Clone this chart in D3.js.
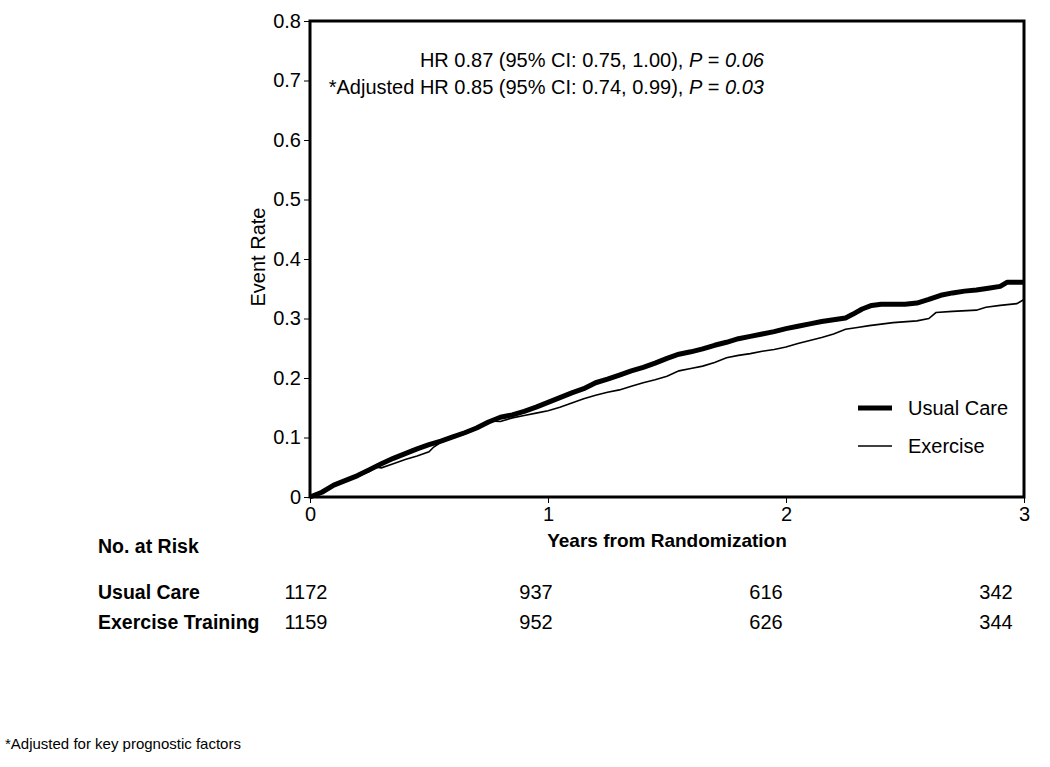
<!DOCTYPE html>
<html>
	<head>
		<meta charset="utf-8">
		<title>Event Rate</title>
		<script src="https://cdn.jsdelivr.net/npm/d3@7"></script>
		<style>
			body { margin: 0; background: #fff; }
			text { font-family: "Liberation Sans", Arial, Helvetica, sans-serif; fill: #000; }
		</style>
	</head>
	<body>
		<div id="root"></div>
		<script>
			// years from randomization / event rate
			const usualYears = [0, 0.05, 0.1, 0.15, 0.2, 0.25, 0.3, 0.35, 0.4, 0.45, 0.5, 0.55, 0.6, 0.65, 0.7, 0.75, 0.8, 0.85, 0.9, 0.95,
				1.0, 1.05, 1.1, 1.15, 1.2, 1.25, 1.3, 1.35, 1.4, 1.45, 1.5, 1.55, 1.6, 1.65, 1.7, 1.75, 1.8, 1.85, 1.9, 1.95,
				2.0, 2.05, 2.1, 2.15, 2.2, 2.25, 2.28, 2.32, 2.36, 2.4, 2.5, 2.55, 2.6, 2.65, 2.7, 2.75, 2.8, 2.85, 2.9, 2.93, 3.0];
			const usualRate = [0, 0.008, 0.02, 0.028, 0.036, 0.046, 0.056, 0.065, 0.073, 0.081, 0.088, 0.094, 0.101, 0.108, 0.116, 0.126, 0.134, 0.138, 0.144, 0.151,
				0.159, 0.167, 0.175, 0.182, 0.192, 0.198, 0.205, 0.212, 0.218, 0.225, 0.233, 0.240, 0.244, 0.249, 0.255, 0.260, 0.266, 0.270, 0.274, 0.278,
				0.283, 0.287, 0.291, 0.295, 0.298, 0.301, 0.307, 0.316, 0.322, 0.324, 0.324, 0.326, 0.332, 0.339, 0.343, 0.346, 0.348, 0.351, 0.354, 0.361, 0.361];

			const exerciseYears = [0, 0.05, 0.1, 0.15, 0.2, 0.25, 0.28, 0.3, 0.35, 0.4, 0.45, 0.5, 0.52, 0.55, 0.6, 0.65, 0.7, 0.75, 0.8, 0.85, 0.9, 0.95,
				1.0, 1.05, 1.1, 1.15, 1.2, 1.25, 1.3, 1.35, 1.4, 1.45, 1.5, 1.55, 1.6, 1.65, 1.7, 1.75, 1.8, 1.85, 1.9, 1.95,
				2.0, 2.05, 2.1, 2.15, 2.2, 2.25, 2.3, 2.35, 2.45, 2.55, 2.6, 2.63, 2.7, 2.8, 2.84, 2.9, 2.97, 3.0];
			const exerciseRate = [0, 0.008, 0.019, 0.027, 0.035, 0.043, 0.050, 0.049, 0.056, 0.063, 0.069, 0.076, 0.084, 0.092, 0.099, 0.106, 0.115, 0.128, 0.127, 0.133, 0.137, 0.141,
				0.145, 0.151, 0.158, 0.165, 0.171, 0.176, 0.180, 0.186, 0.192, 0.197, 0.203, 0.212, 0.216, 0.220, 0.226, 0.234, 0.238, 0.241, 0.245, 0.248,
				0.252, 0.258, 0.263, 0.268, 0.274, 0.282, 0.285, 0.288, 0.293, 0.296, 0.300, 0.310, 0.312, 0.314, 0.319, 0.322, 0.325, 0.332];

			const yTicks = [0, 0.1, 0.2, 0.3, 0.4, 0.5, 0.6, 0.7, 0.8];
			const xTicks = [0, 1, 2, 3];

			const riskGroups = ["Usual Care", "Exercise Training"];
			const riskTimes = [0, 1, 2, 3];
			const riskUsual = [1172, 937, 616, 342];
			const riskExercise = [1159, 952, 626, 344];

			const legendNames = ["Usual Care", "Exercise"];

			const width = 1050;
			const height = 767;

			const xScale = d3.scaleLinear().domain([0, 3]).range([310, 1024]);
			const yScale = d3.scaleLinear().domain([0, 0.8]).range([497, 21]);
			// risk table columns sit a bit left of the axis ticks
			const riskScale = d3.scaleLinear().domain([0, 3]).range([306, 996]);

			const svg = d3.select("#root")
			.append("svg")
			.attr("width", width)
			.attr("height", height);

			//Y Axis
			const yAxis = d3.axisLeft(yScale)
			.tickValues(yTicks)
			.tickSize(6)
			.tickPadding(3)
			.tickFormat(d => d === 0 ? "0" : d3.format(".1f")(d));

			const gy = svg.append("g")
			.attr("transform", "translate(310,0)")
			.call(yAxis);
			gy.select(".domain").remove();
			gy.selectAll("text").attr("font-size", "20px").attr("font-family", "Liberation Sans, Arial, sans-serif");

			//X Axis
			const xAxis = d3.axisBottom(xScale)
			.tickValues(xTicks)
			.tickSize(6)
			.tickPadding(4)
			.tickFormat(d3.format("d"));

			const gx = svg.append("g")
			.attr("transform", "translate(0,497)")
			.call(xAxis);
			gx.select(".domain").remove();
			gx.selectAll("text").attr("font-size", "20px").attr("font-family", "Liberation Sans, Arial, sans-serif");

			//curves
			const line = d3.line()
			.x(d => xScale(d[0]))
			.y(d => yScale(d[1]));

			svg.append("path")
			.datum(exerciseYears.map((t, i) => [t, exerciseRate[i]]))
			.attr("d", line)
			.attr("fill", "none")
			.attr("stroke", "#000")
			.attr("stroke-width", 1.6);

			svg.append("path")
			.datum(usualYears.map((t, i) => [t, usualRate[i]]))
			.attr("d", line)
			.attr("fill", "none")
			.attr("stroke", "#000")
			.attr("stroke-width", 5)
			.attr("stroke-linejoin", "round");

			//frame
			svg.append("rect")
			.attr("x", xScale(0))
			.attr("y", yScale(0.8))
			.attr("width", xScale(3) - xScale(0))
			.attr("height", yScale(0) - yScale(0.8))
			.attr("fill", "none")
			.attr("stroke", "#000")
			.attr("stroke-width", 3);

			//hazard ratio notes
			svg.append("text")
			.attr("x", 764)
			.attr("y", 67)
			.attr("text-anchor", "end")
			.attr("font-size", "20px")
			.html('HR 0.87 (95% CI: 0.75, 1.00), <tspan font-style="italic">P</tspan> = <tspan font-style="italic">0.06</tspan>');

			svg.append("text")
			.attr("x", 764)
			.attr("y", 94)
			.attr("text-anchor", "end")
			.attr("font-size", "20px")
			.html('*Adjusted HR 0.85 (95% CI: 0.74, 0.99), <tspan font-style="italic">P</tspan> = <tspan font-style="italic">0.03</tspan>');

			//legend
			const legend = svg.append("g").attr("transform", "translate(858,408)");
			legendNames.forEach((name, i) => {
				legend.append("line")
				.attr("x1", 0).attr("x2", 34)
				.attr("y1", i * 38).attr("y2", i * 38)
				.attr("stroke", "#000")
				.attr("stroke-width", i === 0 ? 5 : 1.4);
				legend.append("text")
				.attr("x", 50)
				.attr("y", i * 38 + 7)
				.attr("font-size", "20px")
				.text(name);
			});

			//axis labels
			svg.append("text")
			.attr("x", 667)
			.attr("y", 547)
			.attr("text-anchor", "middle")
			.attr("font-size", "19px")
			.attr("font-weight", "bold")
			.text("Years from Randomization");

			svg.append("text")
			.attr("transform", "translate(265,257) rotate(-90)")
			.attr("text-anchor", "middle")
			.attr("font-size", "20px")
			.text("Event Rate");

			//number at risk table
			svg.append("text")
			.attr("x", 98)
			.attr("y", 553)
			.attr("font-size", "19.5px")
			.attr("font-weight", "bold")
			.text("No. at Risk");

			const riskRows = [riskUsual, riskExercise];
			riskRows.forEach((row, r) => {
				const yRow = 599 + r * 30;
				svg.append("text")
				.attr("x", 98)
				.attr("y", yRow)
				.attr("font-size", "19.5px")
				.attr("font-weight", "bold")
				.text(riskGroups[r]);

				svg.selectAll(null)
				.data(row)
				.enter()
				.append("text")
				.attr("x", (d, i) => riskScale(riskTimes[i]))
				.attr("y", yRow)
				.attr("text-anchor", "middle")
				.attr("font-size", "20px")
				.text(d => d);
			});

			//footnote
			svg.append("text")
			.attr("x", 5)
			.attr("y", 749)
			.attr("font-size", "15px")
			.text("*Adjusted for key prognostic factors");
		</script>
	</body>
</html>
